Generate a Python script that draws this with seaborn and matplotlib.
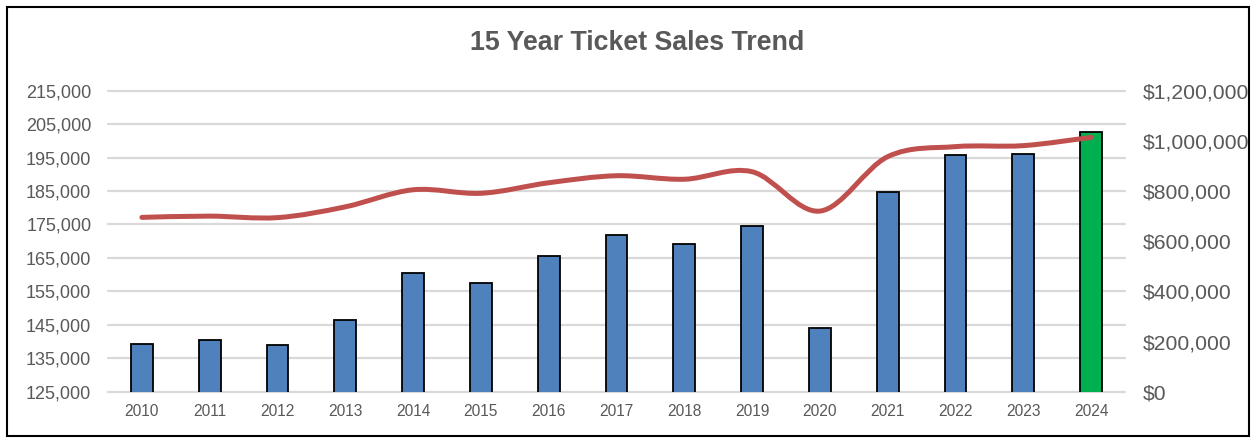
import numpy as np
import pandas as pd
import matplotlib
matplotlib.use("Agg")
import matplotlib.pyplot as plt
import seaborn as sns
from matplotlib.path import Path
from matplotlib.patches import PathPatch, Rectangle
from matplotlib.ticker import FuncFormatter, MultipleLocator, FixedLocator

# Data
years = ['2010', '2011', '2012', '2013', '2014', '2015', '2016', '2017',
         '2018', '2019', '2020', '2021', '2022', '2023', '2024']
tickets = [139200, 140400, 139000, 146500, 160600, 157600, 165700, 171800,
           169200, 174600, 144100, 184600, 195800, 196200, 202600]
revenue = [695000, 700000, 694000, 737000, 805000, 791000, 833000, 861000,
           847000, 877000, 720000, 937000, 977000, 981000, 1014000]
ticket_ticks = [125000, 135000, 145000, 155000, 165000, 175000, 185000,
                195000, 205000, 215000]

BLUE = '#4F81BD'
GREEN = '#00B050'
RED = '#C0504D'
GRAY = '#595959'
GRID = '#D9D9D9'

sns.set_theme(style='white')
plt.rcParams['font.family'] = ['Liberation Sans', 'DejaVu Sans']

df = pd.DataFrame({'year': years, 'tickets': tickets, 'revenue': revenue})
bar_colors = [BLUE] * (len(years) - 1) + [GREEN]

W, H = 1254, 438
fig = plt.figure(figsize=(W / 100, H / 100), dpi=100)
ax = fig.add_axes([108 / W, 1 - 391.7 / H, (1125 - 108) / W, (391.7 - 90.7) / H])

sns.barplot(data=df, x='year', y='tickets', hue='year', palette=bar_colors,
            dodge=False, legend=False, width=0.32, edgecolor='black',
            linewidth=1.3, saturation=1, ax=ax, zorder=3)

ax.set_xlim(-0.5, len(years) - 0.5)
ax.set_ylim(ticket_ticks[0], ticket_ticks[-1])
ax.yaxis.set_major_locator(FixedLocator(ticket_ticks))
ax.yaxis.set_major_formatter(FuncFormatter(lambda v, p: f'{v:,.0f}'))
ax.grid(axis='y', color=GRID, linewidth=1.6, zorder=0)
for gl in ax.get_ygridlines():
    gl.set_clip_on(False)
ax.set_axisbelow(True)
ax.set_xlabel('')
ax.set_ylabel('')
for s in ax.spines.values():
    s.set_visible(False)
ax.tick_params(axis='y', length=0, pad=12, labelsize=13, labelcolor=GRAY)
ax.tick_params(axis='x', length=0, pad=9, labelsize=11.2, labelcolor=GRAY)

# Revenue on the secondary axis, drawn as a smooth (Excel-style) curve
ax2 = ax.twinx()
ax2.set_ylim(0, 1200000)
ax2.yaxis.set_major_locator(MultipleLocator(200000))
ax2.yaxis.set_major_formatter(FuncFormatter(lambda v, p: f'${v:,.0f}'))
ax2.tick_params(axis='y', length=0, pad=13, labelsize=15.2, labelcolor=GRAY)
ax2.grid(False)
for s in ax2.spines.values():
    s.set_visible(False)

xs = np.arange(len(years), dtype=float)
ys = np.array(revenue, dtype=float)
verts = [(xs[0], ys[0])]
codes = [Path.MOVETO]
for i in range(len(xs) - 1):
    p0 = (xs[max(i - 1, 0)], ys[max(i - 1, 0)])
    p1 = (xs[i], ys[i])
    p2 = (xs[i + 1], ys[i + 1])
    p3 = (xs[min(i + 2, len(xs) - 1)], ys[min(i + 2, len(xs) - 1)])
    c1 = (p1[0] + (p2[0] - p0[0]) / 6, p1[1] + (p2[1] - p0[1]) / 6)
    c2 = (p2[0] - (p3[0] - p1[0]) / 6, p2[1] - (p3[1] - p1[1]) / 6)
    verts += [c1, c2, p2]
    codes += [Path.CURVE4] * 3
ax2.add_patch(PathPatch(Path(verts, codes), facecolor='none', edgecolor=RED,
                        linewidth=3.6, capstyle='round', joinstyle='round',
                        zorder=4))

fig.text(637 / W, 1 - 43 / H, '15 Year Ticket Sales Trend', ha='center',
         va='center', fontsize=19.3, fontweight='bold', color=GRAY)

fig.patches.append(Rectangle((6.5 / W, 2 / H), (1249 - 6.5) / W, (431 - 2) / H,
                             transform=fig.transFigure, fill=False,
                             edgecolor='black', linewidth=1.5))

fig.savefig('out.png', dpi=100)
